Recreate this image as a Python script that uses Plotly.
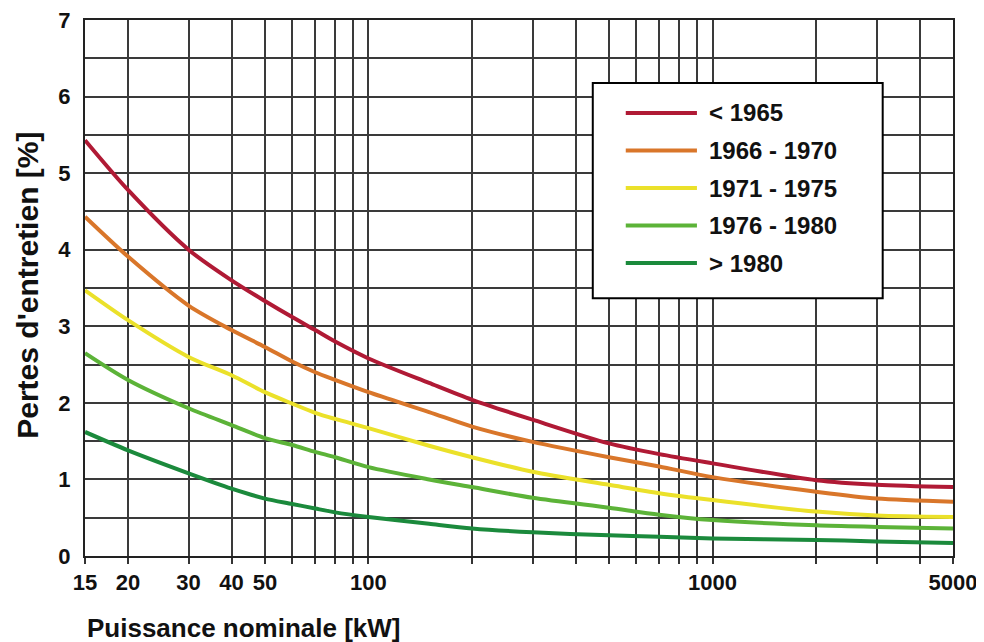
import math
import plotly.graph_objects as go

# ---- data ----
power_kw = [15, 20, 30, 40, 50, 60, 70, 80, 100, 150, 200, 300, 500, 700, 1000, 2000, 3000, 5000]
loss_pre1965 = [5.43, 4.78, 4.00, 3.60, 3.33, 3.12, 2.95, 2.80, 2.58, 2.26, 2.04, 1.78, 1.47, 1.33, 1.21, 0.99, 0.93, 0.90]
loss_1966_1970 = [4.43, 3.91, 3.27, 2.95, 2.73, 2.54, 2.40, 2.30, 2.14, 1.88, 1.69, 1.49, 1.29, 1.17, 1.03, 0.84, 0.75, 0.71]
loss_1971_1975 = [3.47, 3.08, 2.60, 2.36, 2.14, 1.99, 1.87, 1.79, 1.67, 1.44, 1.29, 1.10, 0.93, 0.82, 0.73, 0.58, 0.53, 0.51]
loss_1976_1980 = [2.65, 2.30, 1.93, 1.71, 1.54, 1.45, 1.36, 1.29, 1.16, 1.00, 0.90, 0.76, 0.63, 0.54, 0.47, 0.40, 0.38, 0.36]
loss_post1980 = [1.62, 1.38, 1.08, 0.88, 0.75, 0.68, 0.62, 0.57, 0.51, 0.42, 0.36, 0.31, 0.27, 0.25, 0.23, 0.21, 0.19, 0.17]

series_names = ["< 1965", "1966 - 1970", "1971 - 1975", "1976 - 1980", "> 1980"]
series_values = [loss_pre1965, loss_1966_1970, loss_1971_1975, loss_1976_1980, loss_post1980]
series_colors = ["#B01A35", "#D9762A", "#EBE12A", "#5CB338", "#1B8A3C"]

x_grid = [15, 20, 30, 40, 50, 60, 70, 80, 90, 100, 200, 300, 400, 500, 600, 700, 800, 900,
          1000, 2000, 3000, 4000, 5000]
x_labeled = {15: "15", 20: "20", 30: "30", 40: "40", 50: "50", 100: "100", 1000: "1000", 5000: "5000"}
y_grid = [i * 0.5 for i in range(15)]
y_labels = [str(int(v)) if v == int(v) else "" for v in y_grid]

FONT = "Arial, 'Liberation Sans', sans-serif"
TXT = "#111"

fig = go.Figure()
for name, vals, col in zip(series_names, series_values, series_colors):
    fig.add_trace(go.Scatter(
        x=power_kw, y=vals, name=name, mode="lines",
        line=dict(color=col, width=4, shape="spline", smoothing=0.8),
        showlegend=False,
    ))

# ---- boxed legend drawn in paper coordinates (styling, not data) ----
leg_x0, leg_x1, leg_y0, leg_y1 = 0.585, 0.919, 0.481, 0.8825
line_x0, line_x1, text_x = 0.623, 0.705, 0.717
first_y, step_y = 0.8265, 0.0700
shapes = [dict(type="rect", xref="paper", yref="paper", x0=leg_x0, x1=leg_x1,
               y0=leg_y0, y1=leg_y1, line=dict(color="#000", width=2),
               fillcolor="white", layer="above")]
annotations = []
for i, (name, col) in enumerate(zip(series_names, series_colors)):
    yy = first_y - i * step_y
    shapes.append(dict(type="line", xref="paper", yref="paper", x0=line_x0, x1=line_x1,
                       y0=yy, y1=yy, line=dict(color=col, width=4), layer="above"))
    annotations.append(dict(text=name, xref="paper", yref="paper", x=text_x, y=yy,
                            xanchor="left", yanchor="middle", showarrow=False,
                            font=dict(family=FONT, size=24, color=TXT, weight="bold")))

annotations += [
    dict(text="Pertes d'entretien [%]", xref="paper", yref="paper",
         x=-0.0657, y=0.506, xanchor="center", yanchor="middle", textangle=-90,
         showarrow=False,
         font=dict(family=FONT, size=30, color=TXT, weight="bold")),
    dict(text="Puissance nominale [kW]", xref="paper", yref="paper",
         x=0.0, y=-0.134, xanchor="left", yanchor="middle",
         showarrow=False,
         font=dict(family=FONT, size=26, color=TXT, weight="bold")),
]

fig.update_layout(
    width=976, height=634,
    margin=dict(l=77, r=31, t=12, b=86, autoexpand=False),
    paper_bgcolor="white", plot_bgcolor="white",
    font=dict(family=FONT, color=TXT, size=17),
    showlegend=False,
    shapes=shapes,
    annotations=annotations,
    xaxis=dict(
        type="log", automargin=False, ticklabeloverflow="allow",
        range=[math.log10(power_kw[0]), math.log10(power_kw[-1])],
        tickmode="array", tickvals=x_grid,
        ticktext=[x_labeled.get(v, "") for v in x_grid],
        tickfont=dict(family=FONT, size=22, color=TXT, weight="bold"),
        ticks="outside", ticklen=6, tickcolor="#333", tickwidth=1.5,
        showgrid=True, gridcolor="#3a3a3a", gridwidth=1.5,
        showline=True, linecolor="#222", linewidth=2, mirror=True,
        zeroline=False,
    ),
    yaxis=dict(
        range=[0, 7], automargin=False, ticklabeloverflow="allow",
        tickmode="array", tickvals=y_grid, ticktext=y_labels,
        tickfont=dict(family=FONT, size=22, color=TXT, weight="bold"),
        ticks="", ticklabelstandoff=8,
        showgrid=True, gridcolor="#3a3a3a", gridwidth=1.5,
        showline=True, linecolor="#222", linewidth=2, mirror=True,
        zeroline=False,
    ),
)

fig.write_html("out.html")
